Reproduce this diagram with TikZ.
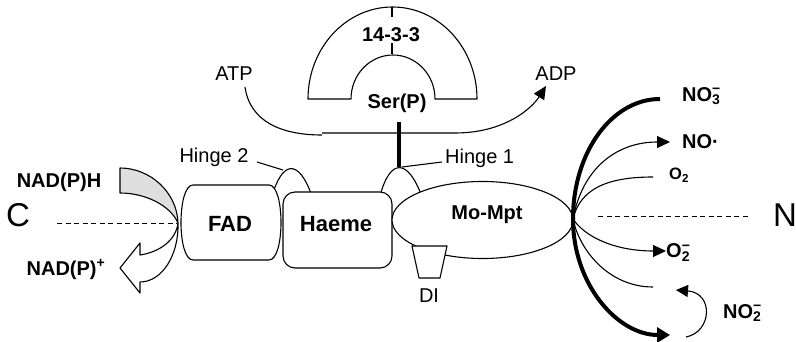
\documentclass[tikz,border=0pt]{standalone}
\usepackage{fontspec}
\setmainfont{Liberation Sans}
\usetikzlibrary{arrows.meta}
\newcommand\chemss[2]{\rlap{\textsuperscript{#2}}\textsubscript{#1}}
\begin{document}
\begin{tikzpicture}[x=1pt,y=-1pt,line join=round,
  thinline/.style={line width=1.1pt},
  thickline/.style={line width=4pt},
  dashline/.style={line width=0.9pt,dash pattern=on 5pt off 3.5pt},
  lbl/.style={inner sep=0pt,anchor=base,font=\fontsize{20}{24}\selectfont},
  blbl/.style={lbl,font=\fontsize{20}{24}\selectfont\bfseries},
  boxlbl/.style={lbl,font=\fontsize{22}{26}\selectfont\bfseries},
  biglbl/.style={lbl,font=\fontsize{33}{40}\selectfont},
  smalllbl/.style={lbl,font=\fontsize{16.5}{20}\selectfont\bfseries},
  tipA/.style={-{Triangle[length=13pt,width=12pt]}},
  tipB/.style={-{Triangle[length=13pt,width=15pt]}}]
\useasboundingbox (0,0) rectangle (796,342);

% NAD(P)H ribbon arrow
\path[thinline,draw,fill=gray!25] (120,168) .. controls (150,168) and (177,192) .. (178,223)
  .. controls (170,205) and (145,193) .. (120,193) -- cycle;
\path[thinline,draw,fill=white] (178,223) .. controls (179,255) and (162,282) .. (140,282)
  -- (140,293) -- (120,268) -- (140,243) -- (140,255)
  .. controls (160,252) and (176,240) .. (178,223) -- cycle;

% dashed axis
\coordinate (cdl) at (57,223);
\coordinate (cdr) at (177,223);
\coordinate (ndl) at (598,216);
\coordinate (ndr) at (748,216);
\draw[dashline] (cdl) -- (cdr);
\draw[dashline] (ndl) -- (ndr);

% hinges
\draw[thinline] (272,196) .. controls (282,162) and (298,157) .. (312,196);
\draw[thinline] (380,196) .. controls (390,158) and (408,158) .. (422,197);

% domains
\draw[thinline,fill=white] (193,185) -- (269,185) .. controls (285,185) and (285,260) .. (269,260)
  -- (193,260) .. controls (177,260) and (177,185) .. (193,185) -- cycle;
\draw[thinline,fill=white,rounded corners=12pt] (283,192) rectangle (392,268);
\draw[thinline,fill=white] (482.5,220) ellipse [x radius=90.5, y radius=38.5];
\draw[thinline,fill=white] (412,246) -- (447,246) -- (440,278) -- (419,278) -- cycle;

% 14-3-3 arch
\draw[thinline,fill=white] (308,99) .. controls (308,48.2) and (345.8,7) .. (392.5,7)
  .. controls (439.2,7) and (477,48.2) .. (477,99) -- (435,99)
  .. controls (435,74.7) and (416.2,55) .. (393,55)
  .. controls (369.8,55) and (351,74.7) .. (351,99) -- cycle;
\draw[thinline] (392,7) -- (392,17);
\draw[thinline] (392,43) -- (392,54);

% ATP -> ADP
\draw[thinline] (245,87) .. controls (250,122) and (282,135) .. (322,135);
\draw[thinline,tipA] (322,133) -- (455,133) .. controls (505,133) and (532,108) .. (546,86);

% Ser(P) bar and leaders
\draw[line width=4.5pt] (399,122) -- (399,167);
\draw[thinline] (402,167) -- (442,162);
\draw[thinline] (257,162) -- (283,170);

% N-terminal reactions
\coordinate (mo) at (573,219);
\draw[thickline] (660,99) .. controls (612,99) and (573,152) .. (mo);
\draw[thickline,tipB] (mo) .. controls (573,285) and (618,335) .. (670,335);
\draw[thinline,tipA] (mo) .. controls (582,170) and (615,142) .. (670,142);
\draw[thinline] (mo) .. controls (580,190) and (605,177) .. (653,177);
\draw[thinline,tipA] (mo) .. controls (585,237) and (615,251) .. (666,251);
\draw[thinline] (mo) .. controls (580,252) and (610,287) .. (653,287);
\draw[thinline,-{Triangle[length=12pt,width=12pt]}] (686,337) .. controls (712,332) and (714,293) .. (676,290);

% labels
\node[blbl] (nadph) at (59,187.2) {NAD(P)H};
\node[blbl] (nadp) at (66,275.2) {NAD(P)\textsuperscript{+}};
\node[biglbl] (cterm) at (18,226.8) {C};
\node[biglbl] (nterm) at (785,226.8) {N};
\node[lbl] (hinge2) at (214,162.2) {Hinge 2};
\node[lbl,anchor=base west] (hinge1) at (445,163.7) {Hinge 1};
\node[boxlbl] (fad) at (230,231.4) {FAD};
\node[boxlbl] (haeme) at (336,232) {Haeme};
\node[blbl] (mompt) at (487,219.3) {Mo-Mpt};
\node[lbl] (di) at (429,302.2) {DI};
\node[lbl] (atp) at (234,80.2) {ATP};
\node[lbl] (adp) at (556,80.2) {ADP};
\node[blbl] (p1433) at (391,41.7) {14-3-3};
\node[blbl] (serp) at (397,108.7) {Ser(P)};
\node[blbl,anchor=base west] (no3) at (682,101.5) {NO\chemss{3}{−}};
\node[blbl,anchor=base west] (no) at (682,149) {NO·};
\node[smalllbl,anchor=base west] (o2) at (669,179.5) {O\textsubscript{2}};
\node[blbl,anchor=base west] (o2m) at (666,258) {O\chemss{2}{−}};
\node[blbl,anchor=base west] (no2) at (723,318) {NO\chemss{2}{−}};
\end{tikzpicture}
\end{document}
